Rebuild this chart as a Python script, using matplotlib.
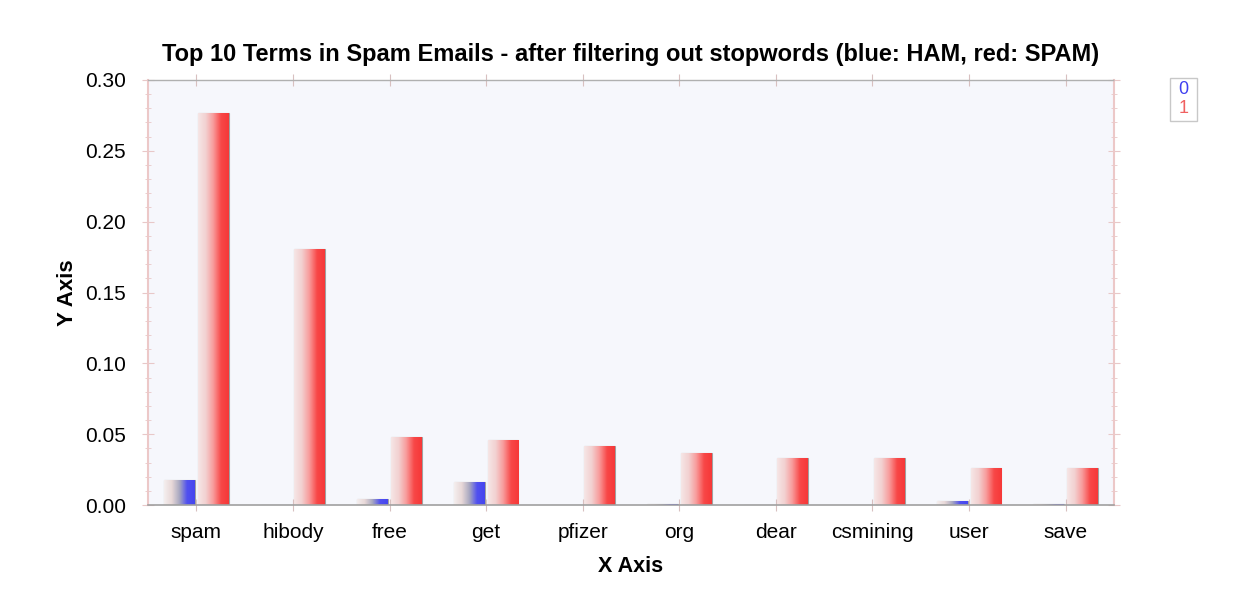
import numpy as np
import matplotlib
matplotlib.use("Agg")
import matplotlib.pyplot as plt
from matplotlib.colors import LinearSegmentedColormap
from matplotlib.ticker import MultipleLocator

plt.rcParams["font.family"] = ["Liberation Sans", "DejaVu Sans"]

terms = ["spam", "hibody", "free", "get", "pfizer", "org", "dear",
         "csmining", "user", "save"]
ham = [0.0176, 0.0, 0.0042, 0.0162, 0.0, 0.0006, 0.0003, 0.0, 0.0030, 0.0007]
spam = [0.277, 0.1807, 0.0482, 0.0461, 0.0416, 0.0369, 0.0334, 0.0334,
        0.0263, 0.0263]

title = "Top 10 Terms in Spam Emails - after filtering out stopwords (blue: HAM, red: SPAM)"

fig = plt.figure(figsize=(12.48, 6.12), dpi=100)
ax = fig.add_axes([0.1186, 0.1748, 0.7740, 0.6945])
ax.set_facecolor("#f6f7fc")

cm_blue = LinearSegmentedColormap.from_list(
    "b", ["#f4eeee", "#e8d8d8", "#a8a8c0", "#5050f0", "#4646ee"])
cm_red = LinearSegmentedColormap.from_list(
    "r", ["#f6e6e6", "#f2d0d0", "#f89a9a", "#f84848", "#f63838"])
grad = np.linspace(0, 1, 64).reshape(1, -1)

x = np.arange(len(terms))
w = 0.32
off = 0.175
bars_h = ax.bar(x - off, ham, w, color="none", edgecolor="#a0a0a0", lw=0.8)
bars_s = ax.bar(x + off, spam, w, color="none", edgecolor="#a0a0a0", lw=0.8)

for bars, cm in ((bars_h, cm_blue), (bars_s, cm_red)):
    for b in bars:
        h = b.get_height()
        if h <= 0:
            continue
        x0 = b.get_x()
        im = ax.imshow(grad, cmap=cm, aspect="auto",
                       extent=(x0, x0 + b.get_width(), 0, h), zorder=1.5)
        im.set_clip_path(b)

ax.set_xlim(-0.5, len(terms) - 0.5)
ax.set_ylim(0, 0.30)
ax.set_xticks(x)
ax.set_xticklabels(terms, fontsize=15)
ax.yaxis.set_major_locator(MultipleLocator(0.05))
ax.yaxis.set_minor_locator(MultipleLocator(0.01))
ax.yaxis.set_major_formatter(matplotlib.ticker.FormatStrFormatter("%.2f"))
ax.tick_params(axis="y", labelsize=15, direction="inout", length=8,
               color="#e8c8c8", right=True, pad=12)
ax.tick_params(axis="y", which="minor", direction="inout", length=4,
               color="#e8c8c8", right=True)
ax.tick_params(axis="x", direction="inout", length=8, color="#d8c0c0",
               top=True, pad=9)

for s in ("left", "right"):
    ax.spines[s].set_color("#ecc8c8")
    ax.spines[s].set_linewidth(1.5)
ax.spines["bottom"].set_color("#a0a0a0")
ax.spines["bottom"].set_linewidth(1.2)
ax.spines["top"].set_color("#b0b0b0")
ax.spines["top"].set_linestyle((0, (1, 1)))
ax.spines["top"].set_linewidth(1.0)

ax.set_xlabel("X Axis", fontsize=15.5, fontweight="bold", labelpad=10)
ax.set_ylabel("Y Axis", fontsize=16, fontweight="bold", labelpad=5)
ax.set_title(title, fontsize=17, fontweight="bold", pad=14)

# legend box
lx, ly, lw_, lh = 1170 / 1248, 1 - 121 / 612, 27 / 1248, 43 / 612
fig.patches.append(plt.Rectangle((lx, ly), lw_, lh, transform=fig.transFigure,
                                 fill=False, edgecolor="#c8c8c8", lw=1))
fig.text(lx + lw_ / 2, ly + lh * 0.74, "0", color="#4040f0", fontsize=13,
         ha="center", va="center")
fig.text(lx + lw_ / 2, ly + lh * 0.28, "1", color="#f06060", fontsize=13,
         ha="center", va="center")

fig.savefig("out.png", dpi=100)
